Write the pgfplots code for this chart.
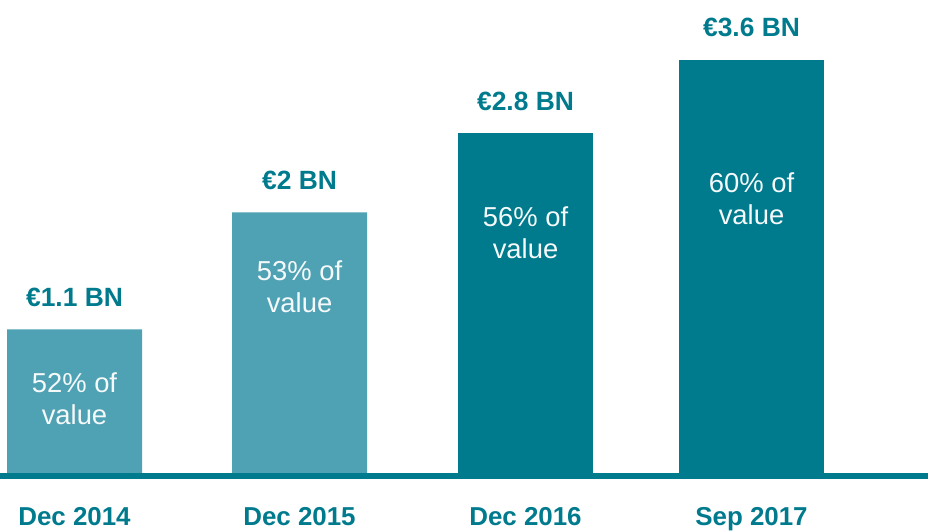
\documentclass[border=0pt]{standalone}
\usepackage{fontspec}
\setmainfont{Liberation Sans}
\usepackage{pgfplots}
\pgfplotsset{compat=1.18}
\definecolor{tealdark}{HTML}{007A8D}
\definecolor{teallight}{HTML}{4FA2B3}

\begin{document}
\begin{tikzpicture}
\begin{axis}[
    width=928bp, height=532bp, scale only axis,
    xmin=0, xmax=928,
    ymin=-0.441, ymax=3.605,
    axis line style={draw=none},
    tick style={draw=none},
    ytick=\empty,
    xtick={74.5,299.5,525.5,751.5},
    xticklabels={Dec 2014, Dec 2015, Dec 2016, Sep 2017},
    xticklabel style={font=\fontsize{26}{30}\selectfont\bfseries, text=tealdark, anchor=base, yshift=7bp},
    clip=false,
    point meta=explicit symbolic,
    toplab/.style={nodes near coords,
        nodes near coords style={anchor=base, yshift=23bp, font=\fontsize{26.5}{30}\selectfont\bfseries, text=tealdark}},
    ]
    % bar heights as drawn (labels carry the real values)
    \addplot[ybar, bar width=135, fill=teallight, draw=none, toplab]
        coordinates {(74.5,1.10) [€1.1 BN] (299.5,1.99) [€2 BN]};
    \addplot[ybar, bar width=135, fill=tealdark, draw=none, toplab]
        coordinates {(525.5,2.59) [€2.8 BN]};
    \addplot[ybar, bar width=145, fill=tealdark, draw=none, toplab]
        coordinates {(751.5,3.15) [€3.6 BN]};
    % share of value, inside the bars
    \addplot[draw=none, mark=none, nodes near coords={\pgfplotspointmeta\\value},
        nodes near coords style={anchor=center, align=center, text=white!94!teallight, font=\fontsize{27.5}{32}\selectfont}]
        coordinates {(74.5,0.570) [52\% of] (299.5,1.426) [53\% of]
                     (525.5,1.833) [56\% of] (751.5,2.091) [60\% of]};
    \draw[tealdark, line width=6bp] (axis cs:0,-0.0152) -- (axis cs:928,-0.0152);
\end{axis}
\pgfresetboundingbox
\path (current axis.south west) rectangle (current axis.north east);
\end{tikzpicture}
\end{document}
